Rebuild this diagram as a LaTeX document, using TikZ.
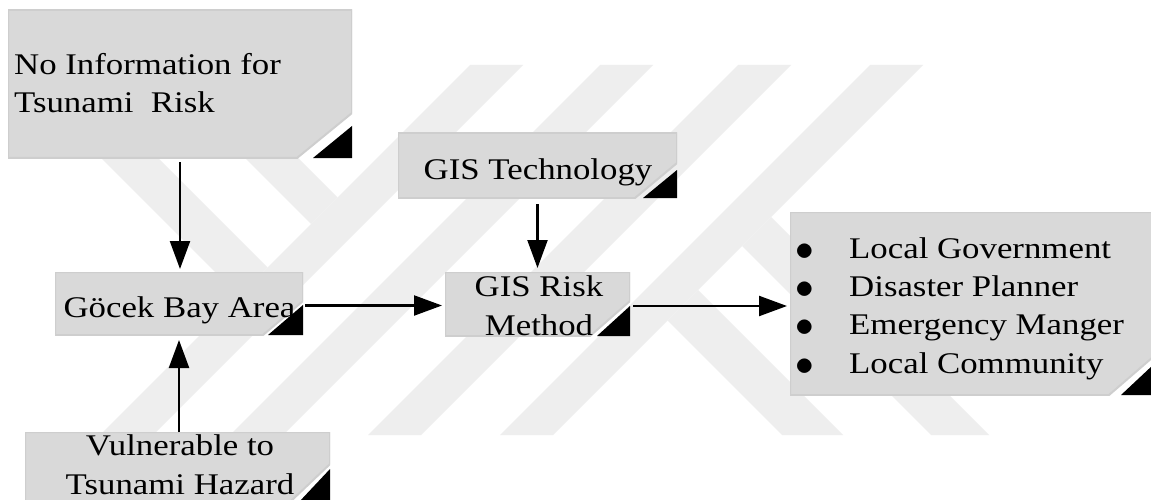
\documentclass[tikz,border=0pt]{standalone}
\usepackage{fontspec}
\setmainfont{Liberation Serif}[FakeStretch=1.16]
\usetikzlibrary{arrows.meta,calc}
\definecolor{panelfill}{RGB}{217,217,217}
\definecolor{panelrim}{RGB}{206,206,206}
\definecolor{markgray}{RGB}{238,238,238}
\newcommand{\listdot}{\makebox[54pt][l]{\raisebox{-2pt}{\scalebox{1.5}{$\bullet$}}}}
\begin{document}
\begin{tikzpicture}[x=1pt,y=-1pt,
  panel/.style n args={4}{rectangle, inner sep=0pt, outer sep=0pt,
    path picture={
      \coordinate (pnw) at (path picture bounding box.north west);
      \coordinate (pse) at (path picture bounding box.south east);
      \filldraw[fill=panelfill, draw=panelrim, line width=2pt]
        (pnw) -- (pnw -| pse) -- ([yshift=#2 pt]pse) -- ([xshift=-#1 pt]pse)
        -- (pnw |- pse) -- cycle;
      \fill[black] ([xshift=-#3 pt]pse) -- ([yshift=#4 pt]pse) -- (pse) -- cycle;
    }},
  txt/.style={inner sep=0pt, font=\fontsize{30}{38.3}\selectfont},
  arr/.style={line width=2.2pt, -{Triangle[length=28pt,width=20pt]}},
  band/.style={fill=markgray}
]
\path[use as bounding box] (0,0) rectangle (1151,500);
\begin{scope}
\clip (0,0) rectangle (1151,500);
\fill[white] (0,0) rectangle (1151,500);

% faint striped emblem in the background
\fill[band] (470,65) -- (523,65) -- (153,435) -- (100,435) -- cycle;
\fill[band] (600,65) -- (653,65) -- (283,435) -- (230,435) -- cycle;
\fill[band] (738,65) -- (791,65) -- (421,435) -- (368,435) -- cycle;
\fill[band] (870,65) -- (923,65) -- (553,435) -- (500,435) -- cycle;
\fill[band] (698,290) -- (843,435) -- (782,435) -- (667.5,320.5) -- cycle;
\fill[band] (771,217) -- (989,435) -- (931,435) -- (742,246) -- cycle;
\fill[band] (8,65) -- (65,65) -- (267.5,267.5) -- (239,296) -- cycle;
\fill[band] (152,65) -- (205,65) -- (337.5,197.5) -- (311,224) -- cycle;

% panels
\node[panel={55}{45}{39}{32}, minimum width=344pt, minimum height=148pt] (p1) at (180,84) {};
\node[panel={42}{35}{34}{28}, minimum width=279pt, minimum height=65pt] (p2) at (537.5,165.5) {};
\node[panel={40}{34}{35}{30}, minimum width=248pt, minimum height=63pt] (p3) at (179,303.5) {};
\node[panel={40}{38}{31}{33}, minimum width=305pt, minimum height=70pt] (p4) at (177.5,467) {};
\node[panel={40}{35}{33}{30}, minimum width=185pt, minimum height=64pt] (p5) at (537.5,304) {};
\node[panel={44}{38}{32}{30}, minimum width=363pt, minimum height=183pt] (p6) at (971.5,303.5) {};

% panel texts (base anchor sits on the last line)
\node[txt, anchor=base west, align=left] (t1) at (14,113) {No Information for\\Tsunami\ \ Risk};
\node[txt, anchor=base] (t2) at (538,179) {GIS Technology};
\node[txt, anchor=base] (t3) at (179.5,317) {Göcek Bay Area};
\node[txt, anchor=base, align=center] (t4) at (180,494) {Vulnerable to\\Tsunami Hazard};
\node[txt, anchor=base, align=center] (t5) at (539,335) {GIS Risk\\Method};
\node[txt, anchor=base west, align=left] (t6) at (795,373)
  {\listdot Local Government\\
   \listdot Disaster Planner\\
   \listdot Emergency Manger\\
   \listdot Local Community};

% connectors
\draw[arr, shorten <=4pt, shorten >=3pt] (p1.south) -- (p1.south |- p3.north);
\draw[arr, shorten >=5pt] (p4.north -| p3.south) -- (p3.south);
\draw[arr, shorten <=2pt, shorten >=3pt] ([yshift=-2pt]p3.east) -- ([yshift=-2pt]p3.east -| p5.west);
\draw[arr, shorten <=6pt, shorten >=4pt] (p2.south) -- (p5.north);
\draw[arr, shorten <=3pt, shorten >=3pt] ([yshift=-2pt]p5.east) -- ([yshift=-2pt]p5.east -| p6.west);
\end{scope}
\end{tikzpicture}
\end{document}
